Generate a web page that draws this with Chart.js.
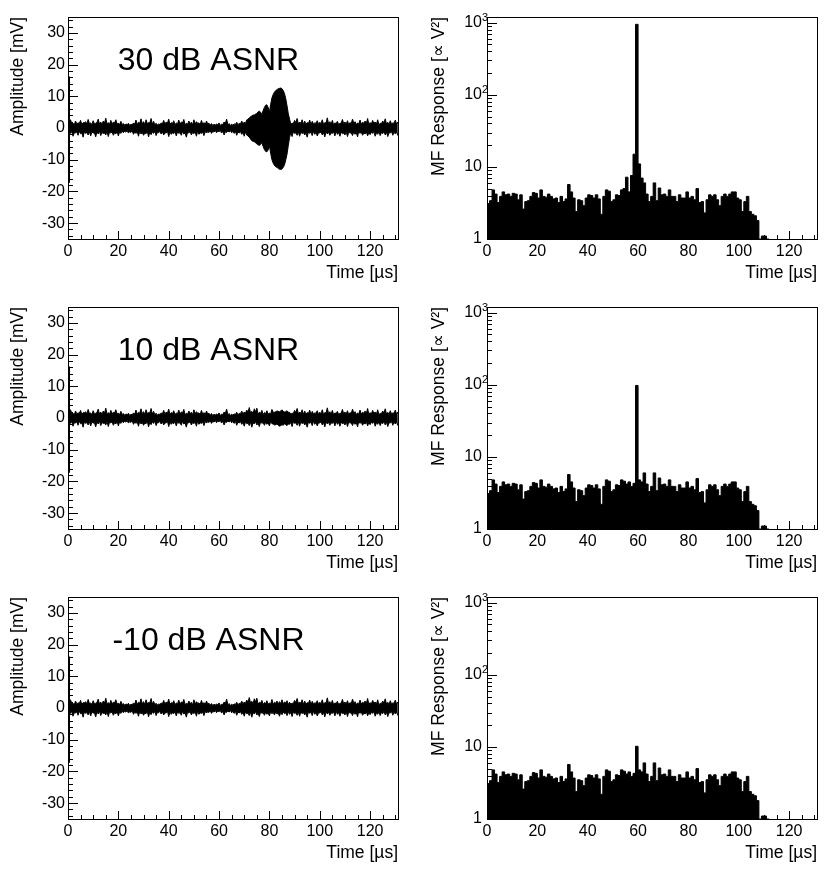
<!DOCTYPE html>
<html><head><meta charset="utf-8">
<script src="https://cdn.jsdelivr.net/npm/chart.js@4/dist/chart.umd.min.js"></script>
<style>
html,body{margin:0;padding:0;background:#fff;}
#wrap{position:relative;width:837px;height:871px;background:#fff;}
canvas{position:absolute;}
</style></head><body>
<div id="wrap">
<canvas id="l1" style="left:0;top:0" width="418" height="290"></canvas>
<canvas id="r1" style="left:418px;top:0" width="419" height="290"></canvas>
<canvas id="l2" style="left:0;top:290px" width="418" height="290"></canvas>
<canvas id="r2" style="left:418px;top:290px" width="419" height="290"></canvas>
<canvas id="l3" style="left:0;top:580px" width="418" height="290"></canvas>
<canvas id="r3" style="left:418px;top:580px" width="419" height="290"></canvas>
</div>
<script>
// ---------------- DATA ----------------
// Waveform noise envelope at whole µs (t = 0..131), mV
const noiseUpper = [
1.8, 2.6, 1.5, 2.2, 1.6, 2.4, 1.7, 2.0, 2.7, 1.6,
2.3, 1.5, 2.8, 1.9, 2.2, 3.1, 1.7, 2.4, 1.8, 2.6,
1.6, 2.1, 1.4, 1.3, 1.5, 1.2, 1.6, 2.5, 1.8, 2.9,
2.0, 2.6, 1.7, 3.0, 2.1, 1.5, 1.3, 1.6, 2.4, 1.9,
2.8, 1.7, 2.3, 1.6, 2.5, 1.9, 2.7, 1.5, 2.2, 1.8,
2.6, 2.0, 1.6, 2.4, 1.7, 2.2, 1.5, 1.4, 1.2, 1.3,
1.6, 1.2, 1.9, 2.8, 1.4, 1.2, 1.3, 1.8, 1.5, 2.2,
1.9, 2.5, 3.3, 2.1, 2.9, 3.1, 1.8, 2.4, 1.7, 2.3,
1.6, 2.7, 1.8, 2.2, 2.0, 2.6, 1.9, 2.3, 1.8, 1.5,
2.4, 3.0, 1.9, 2.6, 2.2, 1.7, 2.5, 2.1, 1.6, 2.3,
1.8, 2.6, 1.7, 3.2, 2.0, 2.4, 1.6, 2.1, 1.5, 2.7,
1.9, 2.3, 1.7, 2.8, 2.0, 1.6, 2.5, 1.8, 2.2, 3.0,
1.7, 2.4, 1.9, 2.6, 1.5, 2.2, 2.9, 1.8, 2.3, 1.6,
2.5, 1.9];
const noiseLower = [
-2.4, -1.7, -2.6, -1.6, -2.3, -1.8, -2.9, -1.7, -2.2, -2.5,
-1.6, -2.8, -1.9, -2.4, -1.7, -2.2, -2.7, -1.6, -2.3, -1.9,
-2.5, -1.7, -1.5, -1.3, -1.6, -1.4, -2.0, -1.7, -2.6, -1.9,
-2.3, -1.8, -2.8, -2.1, -1.7, -2.4, -1.5, -1.9, -2.2, -1.6,
-2.7, -2.0, -1.8, -2.5, -1.7, -2.3, -1.9, -2.9, -1.6, -2.2,
-1.8, -2.6, -2.0, -1.7, -2.4, -1.6, -1.4, -1.7, -1.3, -1.5,
-1.2, -1.6, -2.2, -1.4, -1.3, -1.5, -1.7, -2.3, -1.6, -2.0,
-2.6, -1.8, -2.4, -2.9, -1.9, -2.2, -2.7, -1.7, -2.3, -2.0,
-2.5, -1.8, -2.2, -1.9, -2.6, -2.1, -1.8, -2.4, -2.0, -2.7,
-1.7, -2.3, -2.6, -1.8, -2.2, -2.9, -1.7, -2.4, -2.0, -2.5,
-1.6, -2.2, -2.8, -1.9, -2.3, -1.7, -2.5, -2.0, -2.6, -1.8,
-2.2, -2.7, -1.6, -2.4, -2.0, -2.8, -1.7, -2.3, -1.9, -2.5,
-2.1, -1.7, -2.6, -2.0, -2.4, -1.8, -2.2, -2.7, -1.6, -2.3,
-1.9, -2.4];
// Waveform noise envelope at half µs (t = 0.5..130.5), mV
const noiseUpperMid = [
1.2, 1.4, 1.1, 1.3, 1.5, 1.0, 1.6, 1.2, 1.4, 1.1,
1.3, 1.7, 1.2, 1.0, 1.5, 1.3, 1.1, 1.4, 1.6, 1.2,
1.0, 1.1, 0.9, 1.0, 0.8, 1.0, 1.2, 1.1, 1.5, 1.3,
1.1, 1.4, 1.6, 1.2, 1.0, 0.9, 1.1, 1.3, 1.2, 1.5,
1.1, 1.4, 1.0, 1.3, 1.2, 1.6, 1.1, 1.2, 1.4, 1.0,
1.3, 1.5, 1.1, 1.2, 1.0, 1.3, 0.9, 0.8, 0.9, 1.0,
0.8, 1.1, 1.4, 1.0, 0.8, 0.9, 1.1, 1.0, 1.3, 1.2,
1.5, 1.8, 1.6, 1.4, 1.9, 1.2, 1.5, 1.1, 1.4, 1.2,
1.3, 1.1, 1.5, 1.2, 1.4, 1.3, 1.6, 1.1, 1.2, 1.4,
1.7, 1.3, 1.5, 1.1, 1.2, 1.4, 1.0, 1.3, 1.5, 1.2,
1.4, 1.1, 1.6, 1.3, 1.2, 1.0, 1.4, 1.1, 1.5, 1.3,
1.2, 1.0, 1.4, 1.6, 1.1, 1.3, 1.2, 1.5, 1.4, 1.1,
1.3, 1.5, 1.2, 1.0, 1.4, 1.6, 1.2, 1.1, 1.3, 1.5,
1.2];
const noiseLowerMid = [
-1.3, -1.1, -1.5, -1.2, -1.0, -1.6, -1.2, -1.4, -1.1, -1.3,
-1.5, -1.2, -1.0, -1.4, -1.6, -1.1, -1.3, -1.2, -1.5, -1.0,
-1.2, -0.9, -1.0, -0.8, -1.1, -0.9, -1.3, -1.2, -1.0, -1.4,
-1.6, -1.1, -1.3, -1.2, -1.0, -1.4, -1.1, -1.2, -1.5, -1.0,
-1.3, -1.5, -1.1, -1.2, -1.4, -1.0, -1.6, -1.3, -1.1, -1.4,
-1.2, -1.0, -1.5, -1.3, -1.1, -1.2, -0.9, -1.0, -0.8, -0.9,
-0.8, -1.0, -1.2, -0.9, -0.8, -1.1, -1.0, -1.3, -1.1, -1.4,
-1.2, -1.6, -1.3, -1.5, -1.1, -1.7, -1.2, -1.4, -1.3, -1.5,
-1.1, -1.4, -1.2, -1.6, -1.3, -1.2, -1.5, -1.1, -1.4, -1.2,
-1.5, -1.3, -1.1, -1.4, -1.6, -1.2, -1.3, -1.0, -1.4, -1.5,
-1.2, -1.4, -1.1, -1.3, -1.5, -1.2, -1.0, -1.4, -1.3, -1.6,
-1.1, -1.3, -1.5, -1.2, -1.4, -1.0, -1.3, -1.6, -1.2, -1.4,
-1.3, -1.1, -1.5, -1.2, -1.4, -1.0, -1.3, -1.5, -1.1, -1.3,
-1.2];
// Signal envelope (30 dB ASNR): whole µs t = 71..88, half µs t = 71.5..87.5
const sig30Times = [71, 72, 73, 74, 75, 76, 77, 78, 79, 80, 81, 82, 83, 84, 85, 86, 87, 88];
const sig30Upper = [2.5, 3.1, 3.8, 4.1, 4.6, 5.3, 4.2, 6.5, 7.3, 5.0, 9.5, 11.3, 12.1, 12.5, 12.4, 10.8, 7.0, 2.8];
const sig30Lower = [-2.2, -2.8, -4.0, -4.3, -5.0, -5.5, -4.6, -6.8, -7.5, -5.6, -10.0, -11.8, -12.4, -13.0, -12.9, -11.6, -8.2, -3.0];
const sig30MidTimes = [71, 72, 73, 74, 75, 76, 77, 78, 79, 80, 81, 82, 83, 84, 85, 86, 87];
const sig30UpperMid = [2.9, 3.6, 4.1, 4.4, 5.1, 5.0, 5.5, 7.2, 6.5, 7.5, 10.6, 11.8, 12.4, 12.6, 11.8, 9.2, 4.5];
const sig30LowerMid = [-2.6, -3.5, -4.2, -4.7, -5.3, -5.2, -5.8, -7.4, -6.9, -8.0, -11.1, -12.2, -12.8, -13.1, -12.4, -10.0, -5.5];
// Signal envelope (10 dB ASNR): half µs t = 81.5..87.5
const sig10MidTimes = [81, 82, 83, 84, 85, 86, 87];
const sig10UpperMid = [1.8, 2.0, 2.1, 2.2, 2.1, 2.0, 1.8];
const sig10LowerMid = [-1.9, -2.1, -2.3, -2.4, -2.3, -2.1, -1.9];
// Switch-on spike at t ≈ 0
const spikeTimes = [0.4, 0.4];
const spikeAmps = [16.2, -17.3];

// Matched-filter response, 1 µs bins starting at 0 µs
const mfBase = [
3.3, 3.1, 3.4, 4.8, 4.2, 3.2, 3.9, 4.5, 4.1, 4.2,
3.9, 4.3, 4.2, 3.5, 4.1, 2.6, 3.3, 3.4, 3.9, 4.4,
4.3, 3.7, 4.8, 3.9, 3.8, 4.2, 3.9, 3.6, 3.7, 3.2,
3.9, 3.3, 3.6, 5.7, 4.5, 3.7, 2.4, 3.5, 3.4, 2.9,
3.7, 4.1, 4.0, 3.7, 4.1, 3.6, 2.2, 3.9, 4.8, 4.6,
3.3, 3.5, 4.1, 4.0, 4.8, 4.6, 4.2, 4.5, 3.9, 4.3,
4.6, 4.8, 4.5, 6.0, 4.2, 3.3, 3.9, 6.0, 3.4, 5.1,
4.1, 4.2, 3.9, 4.8, 3.9, 3.9, 3.3, 4.1, 3.7, 3.7,
4.5, 3.7, 3.9, 3.5, 5.0, 3.2, 3.3, 2.3, 3.5, 4.1,
3.9, 4.1, 3.5, 2.9, 3.9, 4.2, 3.9, 4.2, 4.5, 4.5,
3.7, 3.5, 2.4, 3.3, 3.9, 2.4, 2.2, 2.1, 1.8, 1.0,
1.1, 1.1, 1.0];
const peakBins = [55, 56, 57, 58, 59, 60, 61, 62, 63];
const mfPeak30 = [5.0, 7.2, 4.5, 7.6, 15, 950, 11, 7.0, 6.0];
const mfPeak10 = [4.6, 4.2, 4.5, 3.9, 4.3, 98, 4.8, 4.5, 6.0];
const mfPeakM10 = [4.6, 4.2, 4.5, 3.9, 4.3, 10.2, 4.8, 4.5, 6.0];

const asnrLabels = ['30 dB ASNR', '10 dB ASNR', '-10 dB ASNR'];
const ampTicks = [-30, -20, -10, 0, 10, 20, 30];
const timeTicks = [0, 20, 40, 60, 80, 100, 120];
const logTickExponents = [0, 1, 2, 3];

// ---------------- BUILD ----------------
const FONT = "'Liberation Sans', Arial, Helvetica, sans-serif";
const TMAX = 131.07;

function pick(ov, i, v) {
  if (!ov) return v;
  const k = ov.times.indexOf(i);
  return k >= 0 ? ov.values[k] : v;
}
// whole-µs and half-µs envelope values, with optional signal overrides
function envelope(whole, mid, wholeOv, midOv) {
  const pts = [];
  for (let i = 0; i < whole.length; i++) {
    pts.push({x: i, y: pick(wholeOv, i, whole[i])});
    if (i < mid.length) pts.push({x: i + 0.5, y: pick(midOv, i, mid[i])});
  }
  return pts;
}
function withPeak(base, bins, vals) {
  return base.map((v, i) => { const k = bins.indexOf(i); return {x: i, y: k >= 0 ? vals[k] : v}; });
}
const spikePts = spikeTimes.map((t, i) => ({x: t, y: spikeAmps[i]}));

const framePlugin = {
  id: 'frameTicks',
  afterDraw(chart, args, opts) {
    const ctx = chart.ctx;
    const {left, top, right, bottom} = chart.chartArea;
    const x = chart.scales.x, y = chart.scales.y;
    const L = Math.round(left), T = Math.round(top), R = Math.round(right), B = Math.round(bottom);
    ctx.save();
    ctx.strokeStyle = '#000';
    ctx.lineWidth = 1;
    ctx.strokeRect(L + 0.5, T + 0.5, R - L, B - T);
    ctx.beginPath();
    for (let v = 0; v <= x.max; v += 5) {
      const px = Math.round(x.getPixelForValue(v)) + 0.5;
      const len = v % 20 === 0 ? 8 : 4;
      ctx.moveTo(px, B); ctx.lineTo(px, B - len);
    }
    if (y.type === 'logarithmic') {
      for (let e = 0; e <= 3; e++) {
        for (let m = 1; m <= 9; m++) {
          const v = m * Math.pow(10, e);
          if (v > y.max) break;
          const py = Math.round(y.getPixelForValue(v)) + 0.5;
          const len = m === 1 ? 10 : 5;
          ctx.moveTo(L, py); ctx.lineTo(L + len, py);
        }
      }
    } else {
      for (let v = -34; v <= 34; v += 2) {
        const py = Math.round(y.getPixelForValue(v)) + 0.5;
        const len = v % 10 === 0 ? 10 : 5;
        ctx.moveTo(L, py); ctx.lineTo(L + len, py);
      }
    }
    ctx.stroke();
    ctx.fillStyle = '#000';
    if (y.type === 'logarithmic') {
      logTickExponents.forEach(e => {
        const py = y.getPixelForValue(Math.pow(10, e));
        ctx.font = '16px ' + FONT;
        ctx.textAlign = 'right';
        ctx.textBaseline = 'middle';
        ctx.fillText(e === 0 ? '1' : '10', L - 5, py);
        if (e >= 2) {
          ctx.font = '11px ' + FONT;
          ctx.textAlign = 'left';
          ctx.fillText(String(e), L - 5, py - 5);
        }
      });
    }
    if (opts && opts.label) {
      ctx.font = '32px ' + FONT;
      ctx.textAlign = 'center';
      ctx.textBaseline = 'alphabetic';
      ctx.fillText(opts.label, x.getPixelForValue(55.8), y.getPixelForValue(18.4));
    }
    ctx.restore();
  }
};

function xScale() {
  return {
    type: 'linear', min: 0, max: TMAX,
    grid: {display: false, drawTicks: false}, border: {display: false},
    afterBuildTicks: s => { s.ticks = timeTicks.map(v => ({value: v})); },
    ticks: {autoSkip: false, maxRotation: 0, padding: 3, color: '#000', font: {family: FONT, size: 16}},
    title: {display: true, text: 'Time [µs]', align: 'end', color: '#000',
            font: {family: FONT, size: 17.5}, padding: {top: 0, bottom: 6}},
    afterFit: s => { s.height = 51; }
  };
}

function leftChart(id, upper, lower, label) {
  new Chart(document.getElementById(id), {
    type: 'line',
    data: {datasets: [
      {data: upper, borderColor: '#000', borderWidth: 1, backgroundColor: '#000', fill: '+1', pointRadius: 0, tension: 0},
      {data: lower, borderColor: '#000', borderWidth: 1, fill: false, pointRadius: 0, tension: 0},
      {data: spikePts, borderColor: '#000', borderWidth: 2, fill: false, pointRadius: 0}
    ]},
    options: {
      responsive: false, animation: false, devicePixelRatio: 1,
      layout: {padding: {top: 17, right: 20, left: 0, bottom: 0}},
      plugins: {legend: {display: false}, tooltip: {enabled: false}, frameTicks: {label: label}},
      scales: {
        x: xScale(),
        y: {
          type: 'linear', min: -35, max: 35,
          grid: {display: false, drawTicks: false}, border: {display: false},
          afterBuildTicks: s => { s.ticks = ampTicks.map(v => ({value: v})); },
          ticks: {padding: 3, color: '#000', font: {family: FONT, size: 16}},
          title: {display: true, text: 'Amplitude [mV]', align: 'end', color: '#000',
                  font: {family: FONT, size: 17.5}, padding: {top: 7.5, bottom: 0}},
          afterFit: s => { s.width = 68; }
        }
      }
    },
    plugins: [framePlugin]
  });
}

function rightChart(id, pts) {
  new Chart(document.getElementById(id), {
    type: 'line',
    data: {datasets: [
      {data: pts, stepped: 'after', borderColor: '#000', borderWidth: 1, backgroundColor: '#000', fill: 'start', pointRadius: 0}
    ]},
    options: {
      responsive: false, animation: false, devicePixelRatio: 1,
      layout: {padding: {top: 17, right: 20, left: 0, bottom: 0}},
      plugins: {legend: {display: false}, tooltip: {enabled: false}, frameTicks: {}},
      scales: {
        x: xScale(),
        y: {
          type: 'logarithmic', min: 1, max: 1200,
          grid: {display: false, drawTicks: false}, border: {display: false},
          ticks: {display: false},
          title: {display: true, text: 'MF Response [∝ V²]', align: 'end', color: '#000',
                  font: {family: FONT, size: 17.5}, padding: {top: 10.5, bottom: 0}},
          afterFit: s => { s.width = 69; }
        }
      }
    },
    plugins: [framePlugin]
  });
}

leftChart('l1',
  envelope(noiseUpper, noiseUpperMid, {times: sig30Times, values: sig30Upper}, {times: sig30MidTimes, values: sig30UpperMid}),
  envelope(noiseLower, noiseLowerMid, {times: sig30Times, values: sig30Lower}, {times: sig30MidTimes, values: sig30LowerMid}),
  asnrLabels[0]);
leftChart('l2',
  envelope(noiseUpper, noiseUpperMid, null, {times: sig10MidTimes, values: sig10UpperMid}),
  envelope(noiseLower, noiseLowerMid, null, {times: sig10MidTimes, values: sig10LowerMid}),
  asnrLabels[1]);
leftChart('l3', envelope(noiseUpper, noiseUpperMid), envelope(noiseLower, noiseLowerMid), asnrLabels[2]);
rightChart('r1', withPeak(mfBase, peakBins, mfPeak30));
rightChart('r2', withPeak(mfBase, peakBins, mfPeak10));
rightChart('r3', withPeak(mfBase, peakBins, mfPeakM10));
</script>
</body></html>
